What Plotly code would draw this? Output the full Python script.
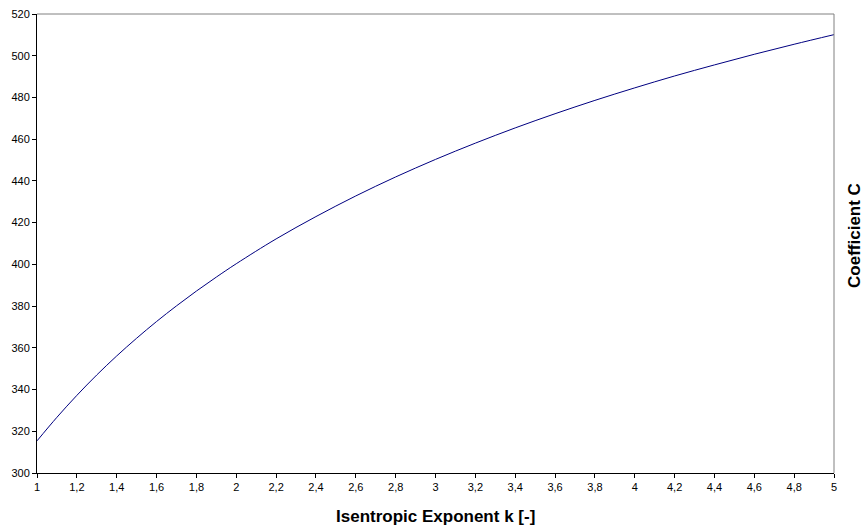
import plotly.graph_objects as go

k_values = [1.0, 1.1, 1.2, 1.3, 1.4, 1.5, 1.6, 1.7, 1.8, 1.9, 2.0,
            2.2, 2.4, 2.6, 2.8, 3.0, 3.2, 3.4, 3.6, 3.8, 4.0,
            4.2, 4.4, 4.6, 4.8, 5.0]
c_values = [315.4, 326.7, 337.2, 347.0, 356.1, 364.6, 372.6, 380.1, 387.2, 393.9, 400.3,
            412.2, 422.9, 432.8, 441.9, 450.3, 458.1, 465.4, 472.2, 478.6, 484.6,
            490.3, 495.6, 500.7, 505.5, 510.1]

x_tickvals = [1, 1.2, 1.4, 1.6, 1.8, 2, 2.2, 2.4, 2.6, 2.8, 3, 3.2, 3.4, 3.6, 3.8,
              4, 4.2, 4.4, 4.6, 4.8, 5]
x_ticktext = ["1", "1,2", "1,4", "1,6", "1,8", "2", "2,2", "2,4", "2,6", "2,8", "3",
              "3,2", "3,4", "3,6", "3,8", "4", "4,2", "4,4", "4,6", "4,8", "5"]
y_tickvals = [300, 320, 340, 360, 380, 400, 420, 440, 460, 480, 500, 520]

x_title = "Isentropic Exponent k [-]"
y_title = "Coefficient C"

font_family = "Liberation Sans, Arial, sans-serif"

W, H = 864, 526
L, R, T, B = 36.5, 29.5, 14.3, 53.3
plot_w = W - L - R
plot_h = H - T - B

fig = go.Figure()
fig.add_trace(go.Scatter(
    x=k_values, y=c_values, mode="lines",
    line=dict(color="#000080", width=1, shape="spline"),
    hoverinfo="x+y", showlegend=False,
))

fig.update_layout(
    width=W, height=H,
    margin=dict(l=L, r=R, t=T, b=B, autoexpand=False),
    paper_bgcolor="white", plot_bgcolor="white",
    font=dict(family=font_family, size=11, color="black"),
    xaxis=dict(
        range=[1, 5], tickmode="array", tickvals=x_tickvals, ticktext=x_ticktext,
        showgrid=False, zeroline=False, showline=True, linecolor="#000000", linewidth=1,
        ticks="outside", ticklen=4, tickcolor="#000000", automargin=False,
        tickfont=dict(family=font_family, size=11, color="black"),
    ),
    yaxis=dict(
        range=[300, 520], tickmode="array", tickvals=y_tickvals,
        showgrid=False, zeroline=False, showline=True, linecolor="#000000", linewidth=1,
        ticks="outside", ticklen=4, tickcolor="#000000", automargin=False,
        tickfont=dict(family=font_family, size=11, color="black"),
    ),
    shapes=[
        dict(type="line", xref="paper", yref="paper", x0=0, x1=1, y0=1, y1=1,
             line=dict(color="#808080", width=1)),
        dict(type="line", xref="paper", yref="paper", x0=1, x1=1, y0=0, y1=1,
             line=dict(color="#808080", width=1)),
    ],
    annotations=[
        dict(text="<b>" + x_title + "</b>", xref="paper", yref="paper",
             x=0.5, y=(H - B - 516) / plot_h, xanchor="center", yanchor="middle",
             showarrow=False,
             font=dict(family=font_family, size=17, color="black")),
        dict(text="<b>" + y_title + "</b>", xref="paper", yref="paper",
             x=(855.5 - L) / plot_w, y=(H - B - 235) / plot_h,
             xanchor="center", yanchor="middle",
             textangle=-90, showarrow=False,
             font=dict(family=font_family, size=17, color="black")),
    ],
)

fig.write_html("out.html", config={"displayModeBar": False},
               post_script="document.body.style.margin='0';document.body.style.padding='0';")
